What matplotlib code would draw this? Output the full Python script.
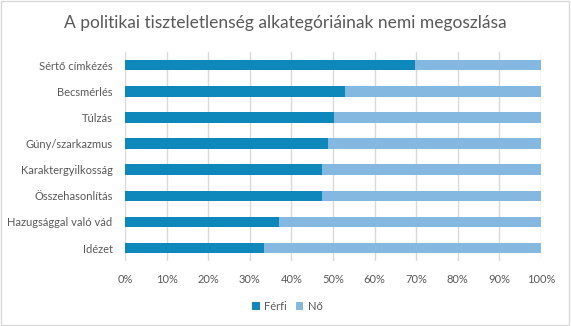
import matplotlib.pyplot as plt
import numpy as np
from matplotlib.patches import Rectangle

plt.rcParams['font.family'] = ['Lato', 'DejaVu Sans']

categories = ["Sértő címkézés", "Becsmérlés", "Túlzás", "Gúny/szarkazmus",
              "Karaktergyilkosság", "Összehasonlítás", "Hazugsággal való vád", "Idézet"]
ferfi = [69.8, 52.9, 50.2, 48.8, 47.4, 47.3, 37.1, 33.3]
no = [100 - v for v in ferfi]
xticks = np.arange(0, 101, 10)

dark = "#0E87BA"
light = "#84B8E0"
grey = "#595959"

fig = plt.figure(figsize=(5.71, 3.26), dpi=100)
ax = fig.add_axes([0.219, 0.199, 0.7285, 0.641])

y = np.arange(len(categories))
ax.barh(y, ferfi, height=0.4, color=dark, label="Férfi", zorder=3)
ax.barh(y, no, left=ferfi, height=0.4, color=light, label="Nő", zorder=3)

ax.set_xlim(0, 100)
ax.set_ylim(len(categories) - 0.5, -0.5)
ax.set_yticks(y)
ax.set_yticklabels(categories)
ax.set_xticks(xticks)
ax.set_xticklabels([f"{v}%" for v in xticks])
ax.tick_params(length=0, labelsize=8, colors=grey)
ax.tick_params(axis='y', pad=9)
ax.tick_params(axis='x', pad=9)
ax.xaxis.grid(True, color="#D9D9D9", linewidth=1, zorder=0)
for s in ax.spines.values():
    s.set_visible(False)

fig.suptitle("A politikai tiszteletlenség alkategóriáinak nemi megoszlása",
             y=0.955, fontsize=12.5, color=grey)

ax.legend(loc="center", bbox_to_anchor=(0.39, -0.215), ncol=2, frameon=False,
          fontsize=8, labelcolor=grey, handlelength=0.7, handleheight=0.7,
          handletextpad=0.4, columnspacing=0.8)

fig.patches.append(Rectangle((0.002, 0.003), 0.995, 0.993, transform=fig.transFigure,
                             fill=False, edgecolor="#D9D9D9", linewidth=1))

fig.savefig("out.png", dpi=100)
